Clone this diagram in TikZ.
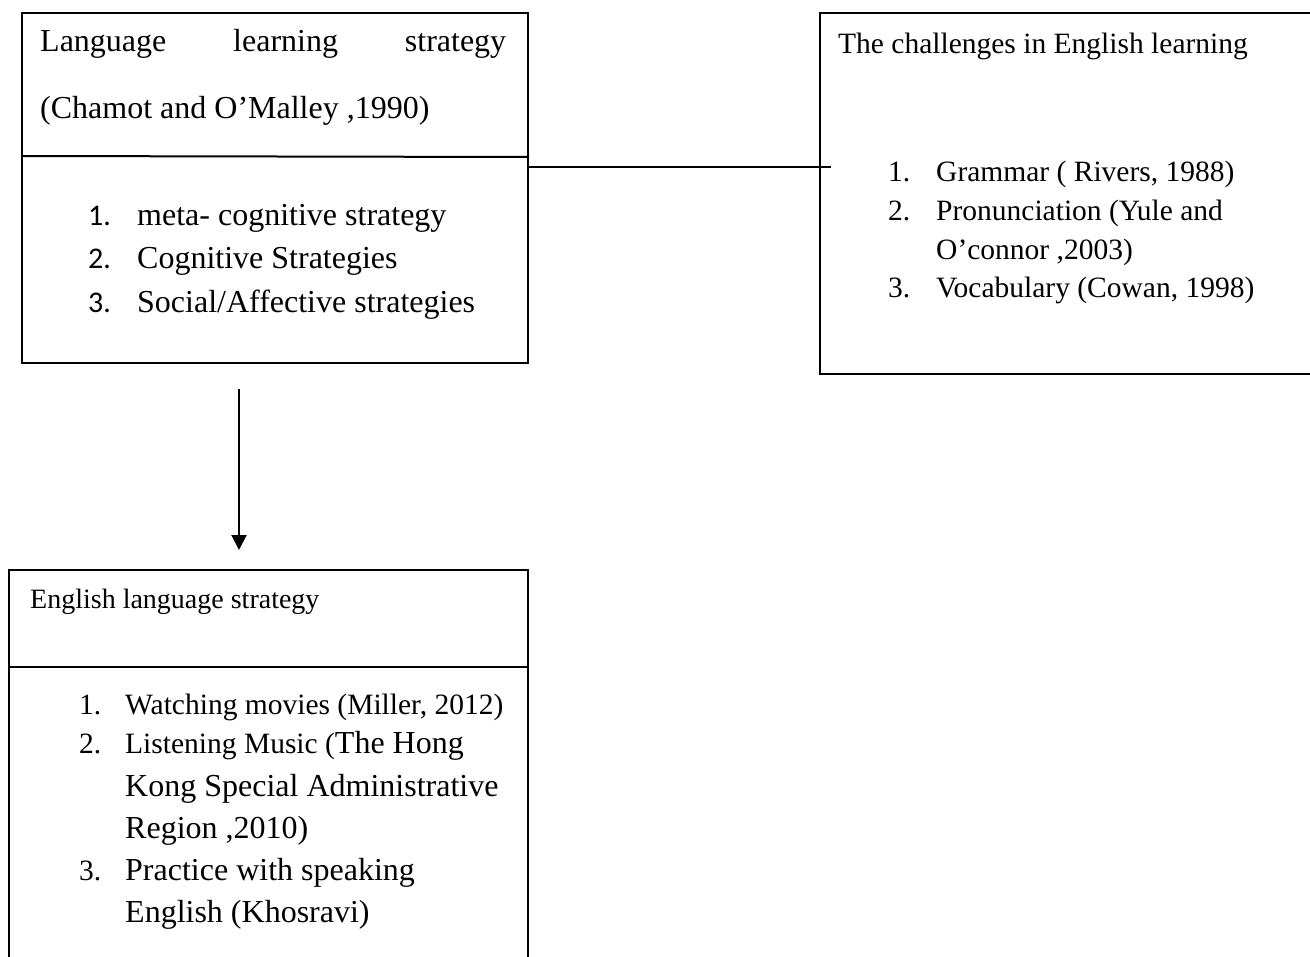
\documentclass[tikz,border=0pt]{standalone}
\usepackage{fontspec}
\setmainfont{Liberation Serif}
\newfontfamily\numfont{Carlito}
\usetikzlibrary{arrows.meta}

\begin{document}
\begin{tikzpicture}[x=1pt, y=-1pt]

	\tikzstyle{frame} = [draw=black, line width=2pt, inner sep=0pt, anchor=north west]
	\tikzstyle{entry} = [anchor=base west, inner sep=0pt]
	\tikzstyle{big_text} = [font=\fontsize{32}{38}\selectfont]
	\tikzstyle{mid_text} = [font=\fontsize{29.5}{35}\selectfont]
	\tikzstyle{small_text} = [font=\fontsize{28}{34}\selectfont]
	\tikzstyle{edge} = [draw=black, line width=2pt]
	\tikzstyle{edge_arrow} = [edge, -{Triangle[length=15pt, width=15pt]}]

	\useasboundingbox (0,0) rectangle (1310,957);
	\clip (0,0) rectangle (1310,957);

%------------------------------------------------------------
	\node[frame, minimum width=506pt, minimum height=350pt] (lls) at (21,12) {};
	\draw[edge] (lls.west |- 0,156) -- (lls.east |- 0,157);

	\node[entry, big_text] (lls_t1) at (40,52) {\makebox[466pt][s]{Language learning strategy}};
	\node[entry, big_text] (lls_t2) at (40,119) {(Chamot and O’Malley ,1990)};

	\node[entry, font=\numfont\fontsize{30}{36}\selectfont] (lls_n1) at (88,226) {1.};
	\node[entry, font=\numfont\fontsize{30}{36}\selectfont] (lls_n2) at (88,269) {2.};
	\node[entry, font=\numfont\fontsize{30}{36}\selectfont] (lls_n3) at (88,313) {3.};
	\node[entry, big_text] (lls_i1) at (137,226) {meta- cognitive strategy};
	\node[entry, big_text] (lls_i2) at (137,269) {Cognitive Strategies};
	\node[entry, big_text] (lls_i3) at (137,313) {Social/Affective strategies};
%------------------------------------------------------------
	\node[frame, minimum width=520pt, minimum height=361pt] (chl) at (819,12) {};

	\node[entry, mid_text] (chl_t1) at (838,54) {The challenges in English learning};

	\node[entry, mid_text] (chl_n1) at (888,182) {1.};
	\node[entry, mid_text] (chl_n2) at (888,221) {2.};
	\node[entry, mid_text] (chl_n3) at (888,298) {3.};
	\node[entry, mid_text] (chl_i1) at (936,182) {Grammar ( Rivers, 1988)};
	\node[entry, mid_text] (chl_i2) at (936,221) {Pronunciation (Yule and};
	\node[entry, mid_text] (chl_i2b) at (936,260) {O’connor ,2003)};
	\node[entry, mid_text] (chl_i3) at (936,298) {Vocabulary (Cowan, 1998)};

	\coordinate (link_end) at (831,167);
	\draw[edge] (lls.east |- link_end) -- (link_end);
%------------------------------------------------------------
	\node[frame, minimum width=519pt, minimum height=420pt] (els) at (8,569) {};
	\draw[edge] (els.west |- 0,667) -- (els.east |- 0,667);

	\node[entry, small_text] (els_t1) at (30,608) {English language strategy};

	\node[entry, mid_text] (els_n1) at (79,714) {1.};
	\node[entry, mid_text] (els_n2) at (79,753) {2.};
	\node[entry, mid_text] (els_n3) at (79,880) {3.};
	\node[entry, mid_text] (els_i1) at (125,714) {Watching movies (Miller, 2012)};
	\node[entry, mid_text] (els_i2) at (125,753) {Listening Music (\fontsize{32}{38}\selectfont The Hong};
	\node[entry, big_text] (els_i2b) at (125,796) {Kong Special Administrative};
	\node[entry, big_text] (els_i2c) at (125,838) {Region ,2010)};
	\node[entry, big_text] (els_i3) at (125,880) {Practice with speaking};
	\node[entry, big_text] (els_i3b) at (125,922) {English (Khosravi)};

	\coordinate (arrow_top) at (239,389);
	\coordinate (arrow_tip) at (239,550);
	\draw[edge_arrow] (arrow_top) -- (arrow_tip);

\end{tikzpicture}
\end{document}
